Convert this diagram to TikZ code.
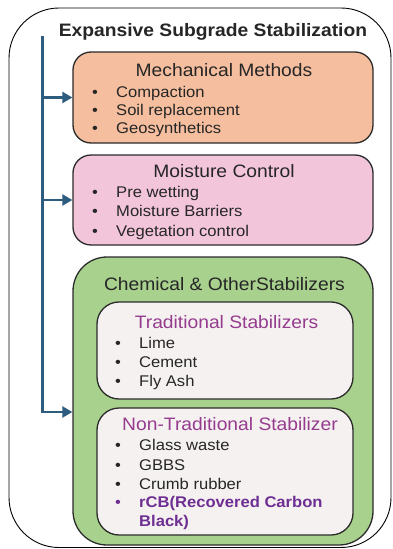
\documentclass[tikz,border=0pt]{standalone}
\usepackage{fontspec}
\setmainfont{Liberation Sans}[FakeStretch=1.07]
\usetikzlibrary{arrows.meta}
\definecolor{orangebox}{HTML}{F5BE9E}
\definecolor{pinkbox}{HTML}{F2C5DB}
\definecolor{greenbox}{HTML}{A9D18E}
\definecolor{innerbox}{HTML}{F6F1F1}
\definecolor{purptitle}{HTML}{953C8E}
\definecolor{purpbold}{HTML}{6E2F93}
\definecolor{conncol}{HTML}{2E5C7E}
\definecolor{txt}{HTML}{262626}
\definecolor{edge}{HTML}{2B2B2B}
\tikzset{
  x=1pt,y=-1pt,
  box/.style={draw=edge,line width=1.3pt,rounded corners=#1,inner sep=0pt},
  maintitle/.style={anchor=base,inner sep=0pt,font=\fontsize{18}{20}\selectfont\bfseries,text=txt},
  boxtitle/.style={anchor=base,inner sep=0pt,font=\fontsize{18}{20}\selectfont,text=txt},
  item/.style={anchor=base west,inner sep=0pt,font=\fontsize{15.5}{17}\selectfont,text=txt},
  bul/.style={anchor=base,inner sep=0pt,font=\fontsize{15.5}{17}\selectfont,text=txt},
  conn/.style={draw=conncol,line width=2.4pt},
  tip/.style={-{Triangle[length=10pt,width=11pt]}},
}
\begin{document}
\begin{tikzpicture}
\useasboundingbox (0,0) rectangle (393,549);
\fill[white] (0,0) rectangle (393,549);
% outer frame
\draw[black,line width=0.9pt,rounded corners=50] (9,8) rectangle (391,547.5);
\node[maintitle] (title) at (213,36) {Expansive Subgrade Stabilization};

% boxes
\node[box=18,fill=orangebox,minimum width=300,minimum height=91] (mech) at (223,97.5) {};
\node[box=18,fill=pinkbox,minimum width=300,minimum height=90] (moist) at (223,200) {};
\node[box=34,fill=greenbox,minimum width=300,minimum height=288] (chem) at (223,401) {};
\node[box=22,fill=innerbox,minimum width=256,minimum height=97] (trad) at (225,350.5) {};
\node[box=22,fill=innerbox,minimum width=256,minimum height=127] (nontrad) at (225,471.5) {};

% mechanical
\node[boxtitle] (mecht) at (224,76) {Mechanical Methods};
\node[bul] (mb1) at (95,97) {•};
\node[item] (mi1) at (116,97) {Compaction};
\node[bul] (mb2) at (95,115) {•};
\node[item] (mi2) at (116,115) {Soil replacement};
\node[bul] (mb3) at (95,133) {•};
\node[item] (mi3) at (116,133) {Geosynthetics};

% moisture
\node[boxtitle] (moistt) at (224,177.5) {Moisture Control};
\node[bul] (ob1) at (95,197) {•};
\node[item] (oi1) at (116,197) {Pre wetting};
\node[bul] (ob2) at (95,216.8) {•};
\node[item] (oi2) at (116,216.8) {Moisture Barriers};
\node[bul] (ob3) at (95,236.5) {•};
\node[item] (oi3) at (116,236.5) {Vegetation control};

% chemical
\node[boxtitle] (chemt) at (224.5,290.7) {Chemical \& OtherStabilizers};

% traditional
\node[boxtitle,text=purptitle] (tradt) at (226.5,328) {Traditional Stabilizers};
\node[bul] (tb1) at (118,348) {•};
\node[item] (ti1) at (139,348) {Lime};
\node[bul] (tb2) at (118,367.2) {•};
\node[item] (ti2) at (139,367.2) {Cement};
\node[bul] (tb3) at (118,386.5) {•};
\node[item] (ti3) at (139,386.5) {Fly Ash};

% non-traditional
\node[boxtitle,text=purptitle] (ntt) at (230,430) {Non-Traditional Stabilizer};
\node[bul] (nb1) at (118,450.6) {•};
\node[item] (ni1) at (139,450.6) {Glass waste};
\node[bul] (nb2) at (118,470) {•};
\node[item] (ni2) at (139,470) {GBBS};
\node[bul] (nb3) at (118,489.2) {•};
\node[item] (ni3) at (139,489.2) {Crumb rubber};
\node[bul,text=purpbold] (nb4) at (118,507.5) {•};
\node[item,text=purpbold,font=\fontsize{15.5}{17}\selectfont\bfseries] (ni4) at (139,507.5) {rCB(Recovered Carbon};
\node[item,text=purpbold,font=\fontsize{15.5}{17}\selectfont\bfseries] (ni5) at (139,526) {Black)};

% connectors
\coordinate (trunk) at (42.5,36);
\draw[conn,tip] (trunk) |- ([yshift=-11pt]chem.west);
\draw[conn,tip] (trunk |- mech.west) -- (mech.west);
\draw[conn,tip] (trunk |- moist.west) -- (moist.west);
\end{tikzpicture}
\end{document}
